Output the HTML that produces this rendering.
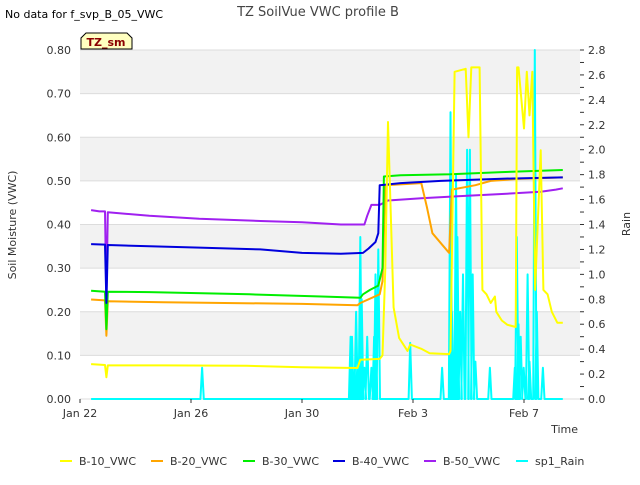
<!DOCTYPE html>
<html><head><meta charset="utf-8"><style>
body{margin:0;background:#fff;font-family:"Liberation Sans","DejaVu Sans",sans-serif;}
svg text{font-family:"DejaVu Sans","Liberation Sans",sans-serif;}
</style></head><body>
<svg id="c" width="640" height="480" xmlns="http://www.w3.org/2000/svg">
<text x="5" y="18" font-size="11" fill="#000">No data for f_svp_B_05_VWC</text>
<text x="318" y="16" font-size="13" fill="#444" text-anchor="middle">TZ SoilVue VWC profile B</text>
<g id="grid"></g><g id="series"></g><g id="axes"></g>
<path d="M81,49 L81,38 L86,33 L127,33 L132,38 L132,49 Z" fill="#ffffc0" stroke="#000"/>
<text x="106" y="46" font-size="11" font-weight="bold" fill="#8b0000" text-anchor="middle">TZ_sm</text>
<text x="16" y="225" font-size="11" fill="#333" text-anchor="middle" transform="rotate(-90 16 225)">Soil Moisture (VWC)</text>
<text x="630" y="224" font-size="11" fill="#333" text-anchor="middle" transform="rotate(-90 630 224)">Rain</text>
<text x="578" y="433" font-size="11" fill="#333" text-anchor="end">Time</text>
<g id="legend"></g>
</svg>
<script>
const xTickLabels=["Jan 22","Jan 26","Jan 30","Feb 3","Feb 7"];
const xTickDays=[0,4,8,12,16];
const yTicks=[0,0.1,0.2,0.3,0.4,0.5,0.6,0.7,0.8];
const y2Ticks=[0,0.2,0.4,0.6,0.8,1.0,1.2,1.4,1.6,1.8,2.0,2.2,2.4,2.6,2.8];
// x in days since Jan 22
const b10Days=[0.4,0.9,0.95,1.0,3,6,8,10,10.1,10.8,10.9,11.0,11.1,11.3,11.5,11.7,11.8,11.9,12.3,12.6,13.3,13.35,13.5,13.9,14.0,14.1,14.4,14.5,14.65,14.8,14.95,15.0,15.2,15.4,15.7,15.75,15.8,16.0,16.1,16.2,16.3,16.4,16.6,16.7,16.85,17.0,17.2,17.4];
const b10Vals=[0.08,0.078,0.05,0.077,0.077,0.076,0.073,0.071,0.09,0.092,0.1,0.3,0.635,0.21,0.14,0.12,0.11,0.125,0.115,0.105,0.103,0.11,0.75,0.757,0.6,0.76,0.76,0.25,0.24,0.22,0.235,0.2,0.18,0.17,0.165,0.76,0.76,0.62,0.75,0.65,0.75,0.25,0.57,0.25,0.24,0.2,0.175,0.175];
const b20Days=[0.4,0.9,0.95,1.0,3,8,10,10.1,10.8,10.9,11.0,12.3,12.5,12.7,13.1,13.3,13.4,14.25,14.8,15.9,17.4];
const b20Vals=[0.228,0.226,0.145,0.224,0.222,0.218,0.215,0.22,0.24,0.27,0.49,0.495,0.44,0.38,0.35,0.335,0.48,0.49,0.5,0.505,0.508];
const b30Days=[0.4,0.9,0.95,1.0,2.5,6.1,8.7,10.1,10.2,10.45,10.75,10.9,10.95,11.55,13.35,15.2,17.4];
const b30Vals=[0.248,0.246,0.16,0.246,0.245,0.24,0.235,0.232,0.24,0.25,0.26,0.3,0.51,0.513,0.515,0.52,0.525];
const b40Days=[0.4,0.9,0.95,1.0,1.45,4.3,6.5,8.0,9.4,10.2,10.4,10.65,10.75,10.8,11.55,13.0,15.2,17.4];
const b40Vals=[0.355,0.354,0.22,0.353,0.352,0.347,0.343,0.335,0.333,0.335,0.345,0.36,0.38,0.49,0.495,0.5,0.505,0.508];
const b50Days=[0.4,0.7,0.9,0.95,1.0,2.5,4.3,6.5,8.0,9.4,10.25,10.35,10.5,10.8,11.1,12.3,13.7,15.2,16.6,17.15,17.4];
const b50Vals=[0.433,0.43,0.43,0.23,0.428,0.42,0.413,0.408,0.405,0.4,0.4,0.42,0.445,0.445,0.455,0.46,0.465,0.47,0.475,0.48,0.483];
const rainDays=[4.4,9.75,9.8,9.95,10.0,10.1,10.15,10.25,10.35,10.5,10.6,10.65,10.75,11.9,13.05,13.35,13.4,13.55,13.6,13.7,13.8,13.95,14.05,14.15,14.25,14.77,15.67,15.74,15.8,15.88,15.99,16.13,16.2,16.39,16.46,16.68];
const rainVals=[0.25,0.5,0.5,0.7,0.3,1.3,0.8,0.25,0.5,0.25,0.5,1.0,1.2,0.45,0.25,2.3,0.7,1.8,1.3,0.7,1.0,2.0,2.0,1.0,0.3,0.25,0.25,1.3,0.6,0.5,0.25,1.0,0.3,2.8,0.7,0.25];
const rainStart=0.4, rainEnd=17.4;

const NS="http://www.w3.org/2000/svg";
const L=80,R=580,T=50,B=399;
const xs=d=>L+d*(111/4);
const ys=v=>B-v*(B-T)/0.8;
const y2s=v=>B-v*(B-T)/2.8;
function mk(tag,attrs,parent){const e=document.createElementNS(NS,tag);for(const k in attrs)e.setAttribute(k,attrs[k]);parent.appendChild(e);return e;}
const grid=document.getElementById('grid'),axes=document.getElementById('axes'),series=document.getElementById('series'),legend=document.getElementById('legend');
for(let i=0;i<8;i++){ if(i%2===1){const r=mk('rect',{x:L,y:ys(yTicks[i+1]),width:R-L,height:ys(yTicks[i])-ys(yTicks[i+1]),fill:'#f2f2f2'},grid);

}}
yTicks.forEach(v=>{const l=mk('line',{x1:L,x2:R,y1:ys(v),y2:ys(v),stroke:'#dcdcdc'},grid);


const t=mk('text',{x:L-9,y:ys(v)+4,'font-size':11,fill:'#333','text-anchor':'end'},axes);t.textContent=v.toFixed(2);

});
y2Ticks.forEach(v=>{const l=mk('line',{x1:R,x2:R+4,y1:y2s(v),y2:y2s(v),stroke:'#333'},axes);


const t=mk('text',{x:R+8,y:y2s(v)+4,'font-size':11,fill:'#333'},axes);t.textContent=v.toFixed(1);


if(v<2.8){const m=mk('line',{x1:R,x2:R+4,y1:y2s(v+0.1),y2:y2s(v+0.1),stroke:'#333'},axes);

}});
xTickDays.forEach((d,i)=>{const l=mk('line',{x1:xs(d),x2:xs(d),y1:B,y2:B+4,stroke:'#333'},axes);


const t=mk('text',{x:xs(d),y:B+18,'font-size':11,fill:'#333','text-anchor':'middle'},axes);t.textContent=xTickLabels[i];

});
function line(days,vals,sc,color,name){const p=days.map((d,i)=>xs(d).toFixed(1)+','+sc(vals[i]).toFixed(1)).join(' ');
const e=mk('polyline',{points:p,fill:'none',stroke:color,'stroke-width':2,'stroke-linejoin':'round'},series);

}
const rd=[rainStart],rv=[0];
rainDays.forEach((d,i)=>{rd.push(d-0.06,d,d+0.06);rv.push(0,rainVals[i],0);});
rd.push(rainEnd);rv.push(0);
line(rd,rv,y2s,'#00ffff','sp1-rain-line');
line(b50Days,b50Vals,ys,'#a020f0','b50-vwc-line');
line(b20Days,b20Vals,ys,'#ffa500','b20-vwc-line');
line(b30Days,b30Vals,ys,'#00ee00','b30-vwc-line');
line(b40Days,b40Vals,ys,'#0000dd','b40-vwc-line');
line(b10Days,b10Vals,ys,'#ffff00','b10-vwc-line');
const ent=[["B-10_VWC","#ffff00",60],["B-20_VWC","#ffa500",151],["B-30_VWC","#00ee00",243],["B-40_VWC","#0000dd",333],["B-50_VWC","#a020f0",424],["sp1_Rain","#00ffff",516]];
ent.forEach(e=>{const g=mk('g',{},legend);


mk('line',{x1:e[2],x2:e[2]+12,y1:461,y2:461,stroke:e[1],'stroke-width':2},g);
const t=mk('text',{x:e[2]+19,y:465,'font-size':11,fill:'#333'},g);t.textContent=e[0];});
</script>
</body></html>
